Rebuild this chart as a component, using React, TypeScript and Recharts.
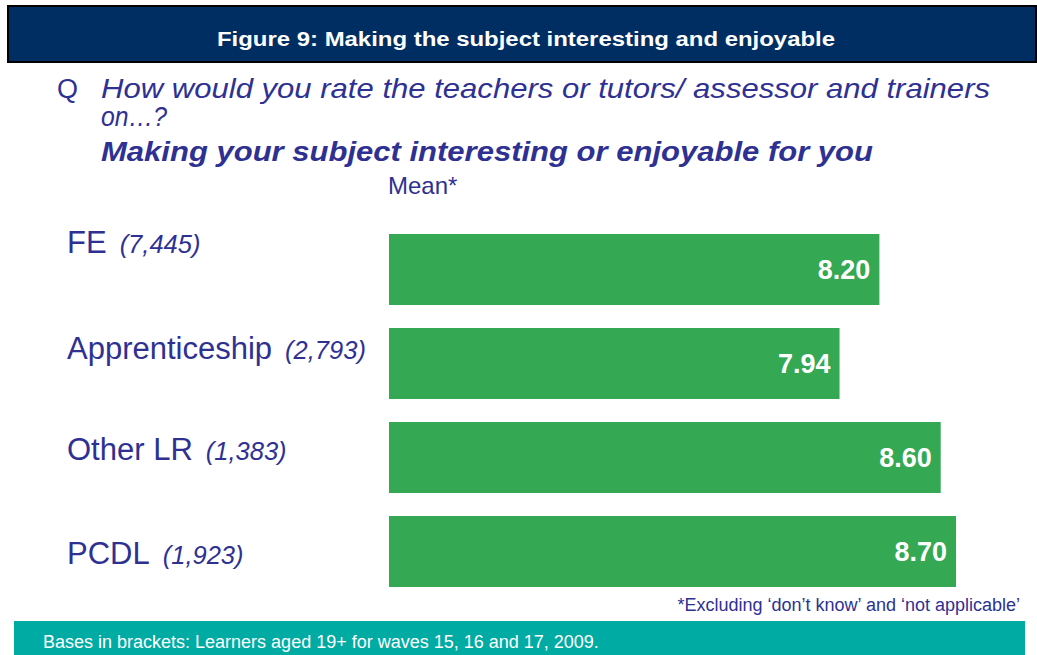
import { BarChart, Bar, XAxis, YAxis, LabelList } from "recharts";

const categories = ["FE", "Apprenticeship", "Other LR", "PCDL"];
const bases = ["(7,445)", "(2,793)", "(1,383)", "(1,923)"];
const means = [8.2, 7.94, 8.6, 8.7];

const data = categories.map((name, i) => ({ name, base: bases[i], value: means[i] }));

const FONT = "'Liberation Sans', Arial, sans-serif";
const BLUE = "#2e3192";
const GREEN = "#34a853";
const NAVY = "#002e62";
const TEAL = "#00aba4";

// labels in the original sit a little off the bar centres
const tickShift = [-16, -4, 3, 13];

function CategoryTick(props: any) {
  const { y, payload, index } = props;
  const row = data[index] ?? data.find((d) => d.name === payload.value);
  return (
    <text x={67} y={y + tickShift[index]} fill={BLUE} fontFamily={FONT}>
      <tspan fontSize={31}>{payload.value}</tspan>
      <tspan dx={13} fontSize={25.5} fontStyle="italic">
        {row?.base}
      </tspan>
    </text>
  );
}

export default function App() {
  return (
    <div style={{ position: "absolute", left: 0, top: 0, width: 1037, height: 655, overflow: "hidden", background: "#fff" }}>
      <svg width={1037} height={655} style={{ position: "absolute", left: 0, top: 0 }}>
        <rect x={7} y={5} width={1030} height={58} fill="#000" />
        <rect x={9} y={7} width={1026} height={54} fill={NAVY} />
        <text x={526} y={46} textAnchor="middle" fill="#fff" fontFamily={FONT} fontWeight="bold" fontSize={20} textLength={618} lengthAdjust="spacingAndGlyphs">
          Figure 9: Making the subject interesting and enjoyable
        </text>
        <text x={57} y={98} fill={BLUE} fontFamily={FONT} fontSize={27}>Q</text>
        <text x={101} y={98} fill={BLUE} fontFamily={FONT} fontSize={28} fontStyle="italic" textLength={889} lengthAdjust="spacingAndGlyphs">
          How would you rate the teachers or tutors/ assessor and trainers
        </text>
        <text x={101} y={126} fill={BLUE} fontFamily={FONT} fontSize={28} fontStyle="italic" textLength={66} lengthAdjust="spacingAndGlyphs">on…?</text>
        <text x={101} y={161} fill={BLUE} fontFamily={FONT} fontSize={28} fontStyle="italic" fontWeight="bold" textLength={772} lengthAdjust="spacingAndGlyphs">
          Making your subject interesting or enjoyable for you
        </text>
        <text x={388} y={194} fill={BLUE} fontFamily={FONT} fontSize={24}>Mean*</text>
        <text x={1020} y={611} textAnchor="end" fill={BLUE} fontFamily={FONT} fontSize={18}>
          *Excluding ‘don’t know’ and ‘not applicable’
        </text>
        <rect x={14} y={621} width={1011} height={40} fill={TEAL} />
        <text x={43} y={648} fill="#fff" fontFamily={FONT} fontSize={18}>
          Bases in brackets: Learners aged 19+ for waves 15, 16 and 17, 2009.
        </text>
      </svg>
      <div style={{ position: "absolute", left: 0, top: 0 }}>
        <BarChart width={1037} height={655} data={data} layout="vertical" margin={{ top: 222, right: 35, bottom: 57, left: 0 }}>
          <XAxis type="number" domain={[5, 9]} hide />
          <YAxis type="category" dataKey="name" width={389} axisLine={false} tickLine={false} tick={<CategoryTick />} />
          <Bar dataKey="value" fill={GREEN} barSize={71} isAnimationActive={false}>
            <LabelList
              dataKey="value"
              position="insideRight"
              offset={9}
              fill="#fff"
              fontFamily={FONT}
              fontWeight="bold"
              fontSize={27}
              formatter={(v: any) => Number(v).toFixed(2)}
            />
          </Bar>
        </BarChart>
      </div>
    </div>
  );
}
